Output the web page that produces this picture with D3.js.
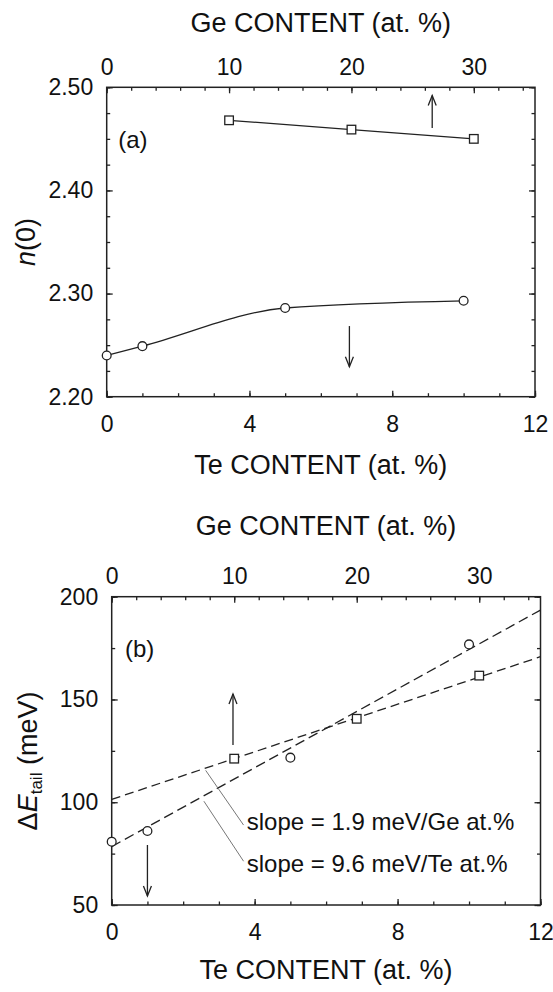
<!DOCTYPE html>
<meta charset="utf-8">
<style>
body { margin: 0; background: #fff; }
text { font-family: "Liberation Sans", Arial, sans-serif; fill: #111; }
.axis line { stroke: #222; stroke-width: 1.3; }
</style>
<svg width="553" height="992"></svg>
<script src="https://d3js.org/d3.v7.min.js"></script>
<script>

// panel (a): n(0) vs content
var teA = [0, 1, 5, 10],
    nTe = [2.240, 2.249, 2.286, 2.293],
    geA = [10, 20, 30],
    nGe = [2.468, 2.459, 2.450];

// panel (b): tail width vs content
var teB = [0, 1, 5, 10],
    eTe = [80.8, 86.0, 121.7, 176.8],
    geB = [10, 20, 30],
    eGe = [121.2, 140.6, 161.6];

// dashed linear fits, end points
var teFitX = [0, 12], teFitY = [78.4, 193.5],
    geFitX = [0, 35], geFitY = [101.4, 170.8];

var teTicks = [0, 4, 8, 12],
    geTicks = [0, 10, 20, 30],
    nTicks = [2.20, 2.30, 2.40, 2.50],
    eTicks = [50, 100, 150, 200];

var svg = d3.select("svg"),
    ink = "#222";

function addAxis(g, axis, tr) {
  var a = g.append("g").attr("class", "axis").attr("transform", tr).call(axis);
  a.select(".domain").remove();
  a.selectAll("text").style("font-size", "23px").attr("fill", "#111");
  return a;
}

function drawPanel(o) {
  var x = d3.scaleLinear().domain([0, 12]).range([o.left, o.right]),
      xg = d3.scaleLinear().domain([0, 35]).range([o.left, o.right]),
      y = d3.scaleLinear().domain(o.yDomain).range([o.bottom, o.top]);
  var g = svg.append("g");

  // bottom: Te
  addAxis(g, d3.axisBottom(x).tickValues(teTicks).tickSize(-6).tickPadding(18.7).tickFormat(d3.format("d")),
    "translate(0," + o.bottom + ")");
  addAxis(g, d3.axisBottom(x).tickValues(d3.range(0, 13)).tickSize(-3.5).tickFormat(""),
    "translate(0," + o.bottom + ")");
  // top: Ge
  addAxis(g, d3.axisTop(xg).tickValues(geTicks).tickSize(-6).tickPadding(12.3).tickFormat(d3.format("d")),
    "translate(0," + o.top + ")");
  addAxis(g, d3.axisTop(xg).tickValues(d3.range(0, 36, 2)).tickSize(-3.5).tickFormat(""),
    "translate(0," + o.top + ")");
  // left / right
  addAxis(g, d3.axisLeft(y).tickValues(o.yTicks).tickSize(-6).tickPadding(13.5).tickFormat(o.fmt),
    "translate(" + o.left + ",0)");
  addAxis(g, d3.axisLeft(y).tickValues(o.yMinor).tickSize(-3.5).tickFormat(""),
    "translate(" + o.left + ",0)");
  addAxis(g, d3.axisRight(y).tickValues(o.yTicks).tickSize(-6).tickFormat(""),
    "translate(" + o.right + ",0)");
  addAxis(g, d3.axisRight(y).tickValues(o.yMinor).tickSize(-3.5).tickFormat(""),
    "translate(" + o.right + ",0)");

  g.append("rect")
      .attr("x", o.left).attr("y", o.top)
      .attr("width", o.right - o.left).attr("height", o.bottom - o.top)
      .attr("fill", "none").attr("stroke", ink).attr("stroke-width", 1.5);

  var cx = (o.left + o.right) / 2;
  g.append("text").attr("x", cx).attr("y", o.topTitle)
      .attr("text-anchor", "middle").style("font-size", "27px")
      .text("Ge CONTENT (at. %)");
  g.append("text").attr("x", cx).attr("y", o.bottomTitle)
      .attr("text-anchor", "middle").style("font-size", "27px")
      .text("Te CONTENT (at. %)");
  g.append("text").attr("x", o.left + o.tagDx).attr("y", o.tagY)
      .style("font-size", "24px").text(o.tag);

  return {g: g, x: x, xg: xg, y: y};
}

function arrow(g, px, py0, py1) {
  var dir = py1 < py0 ? 1 : -1;
  g.append("line").attr("x1", px).attr("x2", px).attr("y1", py0).attr("y2", py1)
      .attr("stroke", ink).attr("stroke-width", 1.3);
  g.append("path")
      .attr("d", "M" + (px - 4) + "," + (py1 + dir * 10) + "L" + px + "," + py1 + "L" + (px + 4) + "," + (py1 + dir * 10))
      .attr("fill", "none").attr("stroke", ink).attr("stroke-width", 1.3);
}

function squares(g, xs, ys, sx, sy) {
  g.selectAll(null).data(xs).enter().append("rect")
      .attr("x", function(d) { return sx(d) - 4.3; })
      .attr("y", function(d, i) { return sy(ys[i]) - 4.3; })
      .attr("width", 8.6).attr("height", 8.6)
      .attr("fill", "#fff").attr("stroke", ink).attr("stroke-width", 1.3);
}

function circles(g, xs, ys, sx, sy) {
  g.selectAll(null).data(xs).enter().append("circle")
      .attr("cx", function(d) { return sx(d); })
      .attr("cy", function(d, i) { return sy(ys[i]); })
      .attr("r", 4.4)
      .attr("fill", "#fff").attr("stroke", ink).attr("stroke-width", 1.3);
}

// ---------- panel (a)
var a = drawPanel({
  left: 106.7, right: 535, top: 87.3, bottom: 396.7,
  yDomain: [2.20, 2.50], yTicks: nTicks,
  yMinor: d3.range(0, 13).map(function(i) { return 2.2 + i * 0.025; }),
  fmt: d3.format(".2f"),
  topTitle: 32, bottomTitle: 474, tag: "(a)", tagDx: 11.5, tagY: 148
});

var lineA = d3.line().curve(d3.curveMonotoneX);
a.g.append("path")
    .attr("d", d3.line()(geA.map(function(d, i) { return [a.xg(d), a.y(nGe[i])]; })))
    .attr("fill", "none").attr("stroke", ink).attr("stroke-width", 1.3);
a.g.append("path")
    .attr("d", lineA(teA.map(function(d, i) { return [a.x(d), a.y(nTe[i])]; })))
    .attr("fill", "none").attr("stroke", ink).attr("stroke-width", 1.3);
squares(a.g, geA, nGe, a.xg, a.y);
circles(a.g, teA, nTe, a.x, a.y);
arrow(a.g, a.xg(26.6), a.y(2.4605), a.y(2.492));
arrow(a.g, a.x(6.8), a.y(2.2685), a.y(2.229));

svg.append("text")
    .attr("transform", "translate(35," + a.y(2.35) + ") rotate(-90)")
    .attr("text-anchor", "middle").style("font-size", "27px")
    .call(function(t) {
      t.append("tspan").style("font-style", "italic").text("n");
      t.append("tspan").text("(0)");
    });

// ---------- panel (b)
var b = drawPanel({
  left: 111.7, right: 540.5, top: 596.7, bottom: 905,
  yDomain: [50, 200], yTicks: eTicks,
  yMinor: d3.range(50, 201, 25),
  fmt: d3.format("d"),
  topTitle: 535, bottomTitle: 979, tag: "(b)", tagDx: 13.3, tagY: 657
});

b.g.append("path")
    .attr("d", d3.line()(teFitX.map(function(d, i) { return [b.x(d), b.y(teFitY[i])]; })))
    .attr("fill", "none").attr("stroke", ink).attr("stroke-width", 1.3)
    .attr("stroke-dasharray", "10,5");
b.g.append("path")
    .attr("d", d3.line()(geFitX.map(function(d, i) { return [b.xg(d), b.y(geFitY[i])]; })))
    .attr("fill", "none").attr("stroke", ink).attr("stroke-width", 1.3)
    .attr("stroke-dasharray", "9,5");
squares(b.g, geB, eGe, b.xg, b.y);
circles(b.g, teB, eTe, b.x, b.y);
arrow(b.g, b.xg(9.9), b.y(127.8), b.y(152.7));
arrow(b.g, b.x(1), b.y(79.2), b.y(54.4));

// leaders + slope notes
var leaders = [[2.63, 115.5, 3.69, 88.9], [2.58, 100.5, 3.69, 71.3]];
b.g.selectAll(null).data(leaders).enter().append("line")
    .attr("x1", function(d) { return b.x(d[0]); })
    .attr("y1", function(d) { return b.y(d[1]); })
    .attr("x2", function(d) { return b.x(d[2]); })
    .attr("y2", function(d) { return b.y(d[3]); })
    .attr("stroke", "#777").attr("stroke-width", 1);
var notes = ["slope = 1.9 meV/Ge at.%", "slope = 9.6 meV/Te at.%"],
    noteY = [86.5, 66.2];
b.g.selectAll(null).data(notes).enter().append("text")
    .attr("x", b.x(3.78))
    .attr("y", function(d, i) { return b.y(noteY[i]); })
    .style("font-size", "24px")
    .text(function(d) { return d; });

svg.append("text")
    .attr("transform", "translate(37,761) rotate(-90)")
    .attr("text-anchor", "middle").style("font-size", "27px")
    .call(function(t) {
      t.append("tspan").text("\u0394");
      t.append("tspan").style("font-style", "italic").text("E");
      t.append("tspan").style("font-size", "17px").attr("dy", 5).text("tail");
      t.append("tspan").attr("dy", -5).text(" (meV)");
    });

</script>
